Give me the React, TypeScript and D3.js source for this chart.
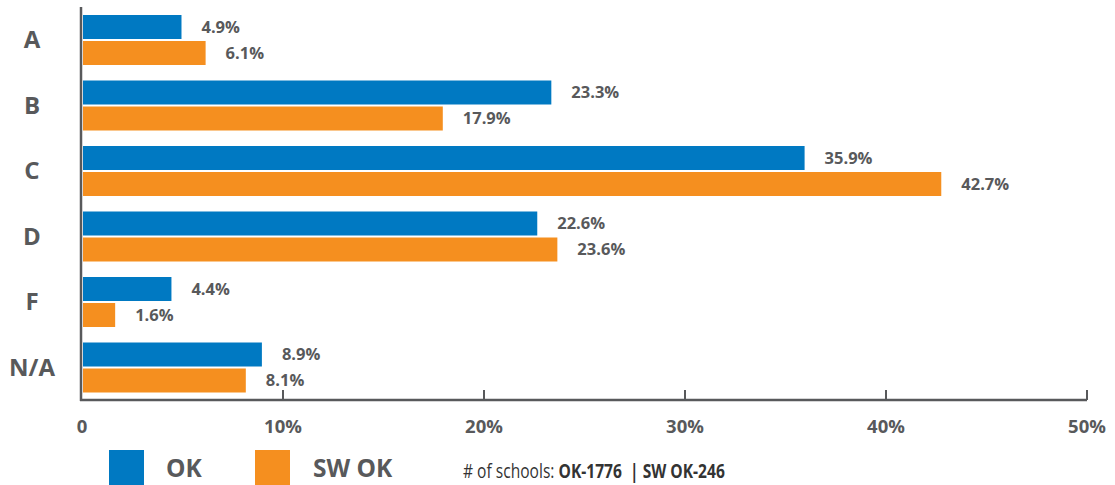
import * as d3 from "d3";
import { useLayoutEffect, useRef, useState } from "react";

const categories = ["A", "B", "C", "D", "F", "N/A"];
const okValues = [4.9, 23.3, 35.9, 22.6, 4.4, 8.9];
const swOkValues = [6.1, 17.9, 42.7, 23.6, 1.6, 8.1];
const xTicks = [0, 10, 20, 30, 40, 50];
const seriesNames = ["OK", "SW OK"];

const W = 1115;
const H = 485;
const BLUE = "#0079c2";
const ORANGE = "#f58f1f";
const GREY = "#58595b";
const FONT = "'Open Sans', 'Noto Sans', sans-serif";

export default function App() {
  const x = d3.scaleLinear().domain([0, 50]).range([82, 1087]);
  const y = d3.scaleBand().domain(categories).range([7, 400]);
  const barH = 24;
  const series = [okValues, swOkValues];
  const colors = [BLUE, ORANGE];

  // the note below the chart is set in a condensed face, squeeze it to fit
  const noteRef = useRef<SVGTextElement>(null);
  const [noteScale, setNoteScale] = useState(0.8);
  useLayoutEffect(() => {
    if (noteRef.current) {
      const w = noteRef.current.getComputedTextLength();
      if (w > 0) setNoteScale(262 / w);
    }
  }, []);

  return (
    <div style={{ position: "absolute", left: 0, top: 0, background: "#fff" }}>
      <svg width={W} height={H} style={{ display: "block", fontFamily: FONT }}>
        {/* axes */}
        <line x1={81} x2={81} y1={7} y2={401} stroke={GREY} strokeWidth={2.5} />
        <line x1={80} x2={x(50)} y1={400} y2={400} stroke={GREY} strokeWidth={2.5} />
        {xTicks.slice(1).map((t) => (
          <line key={t} x1={x(t)} x2={x(t)} y1={390} y2={400} stroke={GREY} strokeWidth={2} />
        ))}
        {xTicks.map((t) => (
          <text
            key={"l" + t}
            x={x(t)}
            y={433}
            textAnchor="middle"
            fontSize={18.5}
            fontWeight={700}
            fill={GREY}
          >
            {t === 0 ? "0" : `${t}%`}
          </text>
        ))}

        {categories.map((c, i) => {
          const y0 = y(c)!;
          return (
            <g key={c}>
              <text
                x={32}
                y={y0 + 33}
                dy="0.35em"
                textAnchor="middle"
                fontSize={24}
                fontWeight={700}
                fill={GREY}
              >
                {c}
              </text>
              {series.map((vals, s) => {
                const top = y0 + 8 + s * (barH + 2);
                const v = vals[i];
                return (
                  <g key={s}>
                    <rect x={x(0) + 1} y={top} width={x(v) - x(0)} height={barH} fill={colors[s]} />
                    <text
                      x={x(v) + 21}
                      y={top + barH / 2}
                      dy="0.35em"
                      fontSize={16.5}
                      fontWeight={700}
                      fill={GREY}
                    >
                      {v.toFixed(1)}%
                    </text>
                  </g>
                );
              })}
            </g>
          );
        })}

        {/* legend */}
        <rect x={109} y={450} width={35} height={36} fill={BLUE} />
        <text x={166} y={477} fontSize={24.5} fontWeight={700} fill={GREY}>
          {seriesNames[0]}
        </text>
        <rect x={255} y={450} width={35} height={36} fill={ORANGE} />
        <text x={313} y={477} fontSize={24.5} fontWeight={700} fill={GREY}>
          {seriesNames[1]}
        </text>
        <g transform={`translate(463,478) scale(${noteScale},1)`}>
          <text ref={noteRef} x={0} y={0} fontSize={20} fill="#333">
            # of schools: <tspan fontWeight={700}>OK-1776 &nbsp;| SW OK-246</tspan>
          </text>
        </g>
      </svg>
    </div>
  );
}
